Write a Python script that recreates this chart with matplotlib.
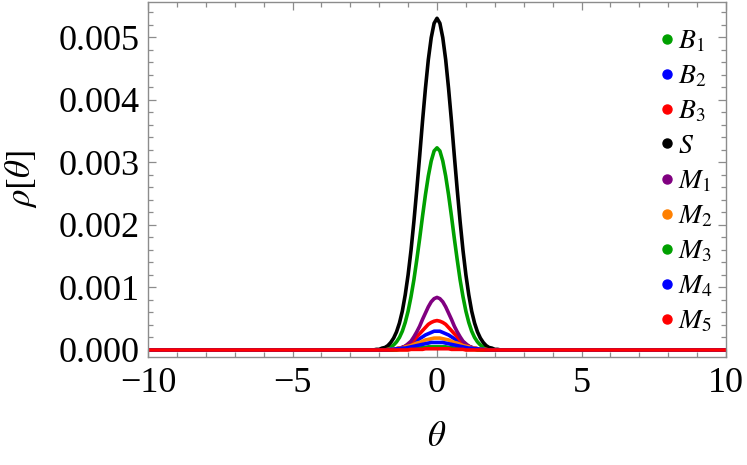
import numpy as np
import matplotlib
matplotlib.use('Agg')
import matplotlib.pyplot as plt
from matplotlib.lines import Line2D
from matplotlib.ticker import MultipleLocator, FormatStrFormatter

plt.rcParams['font.family'] = ['Liberation Serif', 'DejaVu Serif']
plt.rcParams['mathtext.fontset'] = 'stix'

# theta samples on the right half; every curve is symmetric about theta = 0
theta_half = [0.0, 0.1, 0.2, 0.3, 0.4, 0.5, 0.6, 0.7, 0.8, 0.9, 1.0, 1.1, 1.2,
              1.3, 1.4, 1.5, 1.6, 1.7, 1.8, 1.9, 2.0, 2.1, 2.2, 2.3, 2.4]

# rho[theta] at theta_half
B1 = [0.00323, 0.00318, 0.00302, 0.00278, 0.00248, 0.00214, 0.00178, 0.00144, 0.00112, 0.00085,
      0.00062, 0.00044, 0.00030, 0.00020, 0.00013, 0.00008, 0.00005, 0.00003, 0.00002, 0.00001,
      0.0, 0.0, 0.0, 0.0, 0.0]
B2 = [0.00030, 0.00030, 0.00028, 0.00026, 0.00024, 0.00021, 0.00018, 0.00015, 0.00012, 0.00010,
      0.00007, 0.00006, 0.00004, 0.00003, 0.00002, 0.00001, 0.00001, 0.0, 0.0, 0.0,
      0.0, 0.0, 0.0, 0.0, 0.0]
B3 = [0.00047, 0.00046, 0.00044, 0.00041, 0.00036, 0.00031, 0.00026, 0.00021, 0.00016, 0.00012,
      0.00009, 0.00006, 0.00004, 0.00003, 0.00002, 0.00001, 0.0, 0.0, 0.0, 0.0,
      0.0, 0.0, 0.0, 0.0, 0.0]
S = [0.00530, 0.00522, 0.00499, 0.00464, 0.00418, 0.00366, 0.00310, 0.00256, 0.00205, 0.00159,
     0.00120, 0.00088, 0.00062, 0.00043, 0.00029, 0.00019, 0.00012, 0.00007, 0.00004, 0.00003,
     0.00001, 0.00001, 0.0, 0.0, 0.0]
M1 = [0.00084, 0.00082, 0.00077, 0.00069, 0.00059, 0.00049, 0.00038, 0.00029, 0.00021, 0.00014,
      0.00010, 0.00006, 0.00004, 0.00002, 0.00001, 0.00001, 0.0, 0.0, 0.0, 0.0,
      0.0, 0.0, 0.0, 0.0, 0.0]
M2 = [0.00019, 0.00019, 0.00018, 0.00017, 0.00016, 0.00014, 0.00012, 0.00011, 0.00009, 0.00007,
      0.00006, 0.00005, 0.00003, 0.00003, 0.00002, 0.00001, 0.00001, 0.00001, 0.0, 0.0,
      0.0, 0.0, 0.0, 0.0, 0.0]
M3 = [0.00005, 0.00005, 0.00005, 0.00005, 0.00004, 0.00004, 0.00003, 0.00003, 0.00002, 0.00002,
      0.00001, 0.00001, 0.00001, 0.00001, 0.0, 0.0, 0.0, 0.0, 0.0, 0.0,
      0.0, 0.0, 0.0, 0.0, 0.0]
M4 = [0.00012, 0.00012, 0.00012, 0.00011, 0.00010, 0.00009, 0.00008, 0.00007, 0.00006, 0.00005,
      0.00004, 0.00003, 0.00003, 0.00002, 0.00002, 0.00001, 0.00001, 0.0, 0.0, 0.0,
      0.0, 0.0, 0.0, 0.0, 0.0]
M5 = [0.00002, 0.00002, 0.00002, 0.00002, 0.00002, 0.00001, 0.00001, 0.00001, 0.00001, 0.00001,
      0.0, 0.0, 0.0, 0.0, 0.0, 0.0, 0.0, 0.0, 0.0, 0.0,
      0.0, 0.0, 0.0, 0.0, 0.0]

series = [B1, B2, B3, S, M1, M2, M3, M4, M5]
labels = ['$B_1$', '$B_2$', '$B_3$', '$S$', '$M_1$', '$M_2$', '$M_3$', '$M_4$', '$M_5$']
colors = ['#00a000', '#0000ff', '#ff0000', 'black', '#800080', '#ff8000', '#00a000', '#0000ff', '#ff0000']


def mirror(vals):
    # full curve from -10 to 10, flat zero outside the sampled bump
    return [0.0] + vals[:0:-1] + vals + [0.0]


theta = [-10.0] + [-t for t in theta_half[:0:-1]] + theta_half + [10.0]

fig = plt.figure(figsize=(7.47, 4.65), dpi=100)
ax = fig.add_axes([148/747, 108/465, 578/747, 355/465])

for vals, c in zip(series, colors):
    ax.plot(theta, mirror(vals), color=c, lw=2.6, solid_joinstyle='round')

ax.set_xlim(-10, 10)
ax.set_ylim(-0.000112, 0.00556)

ax.xaxis.set_major_locator(MultipleLocator(5))
ax.xaxis.set_minor_locator(MultipleLocator(1))
ax.yaxis.set_major_locator(MultipleLocator(0.001))
ax.yaxis.set_minor_locator(MultipleLocator(0.0002))
ax.yaxis.set_major_formatter(FormatStrFormatter('%.3f'))

frame = '#8c8c8c'
for sp in ax.spines.values():
    sp.set_color(frame)
    sp.set_linewidth(1.0)
ax.tick_params(which='both', direction='in', top=True, right=True,
               color=frame, labelcolor='black', labelsize=26, width=0.9)
ax.tick_params(which='major', length=6)
ax.tick_params(which='minor', length=3.5)
ax.tick_params(axis='x', pad=7)
ax.tick_params(axis='y', pad=6)

ax.set_xlabel(r'$\theta$', fontsize=25, labelpad=15)
ax.set_ylabel(r'$\rho[\theta]$', fontsize=25, labelpad=14)

handles = [Line2D([], [], ls='', marker='o', ms=6.5, color=c) for c in colors]
ax.legend(handles, labels, loc='upper left', bbox_to_anchor=(0.886, 0.925),
          frameon=False, fontsize=20, handlelength=0.5, handletextpad=0.15,
          labelspacing=0.34, borderaxespad=0.0, borderpad=0.0)

fig.savefig('out.png', dpi=100)
